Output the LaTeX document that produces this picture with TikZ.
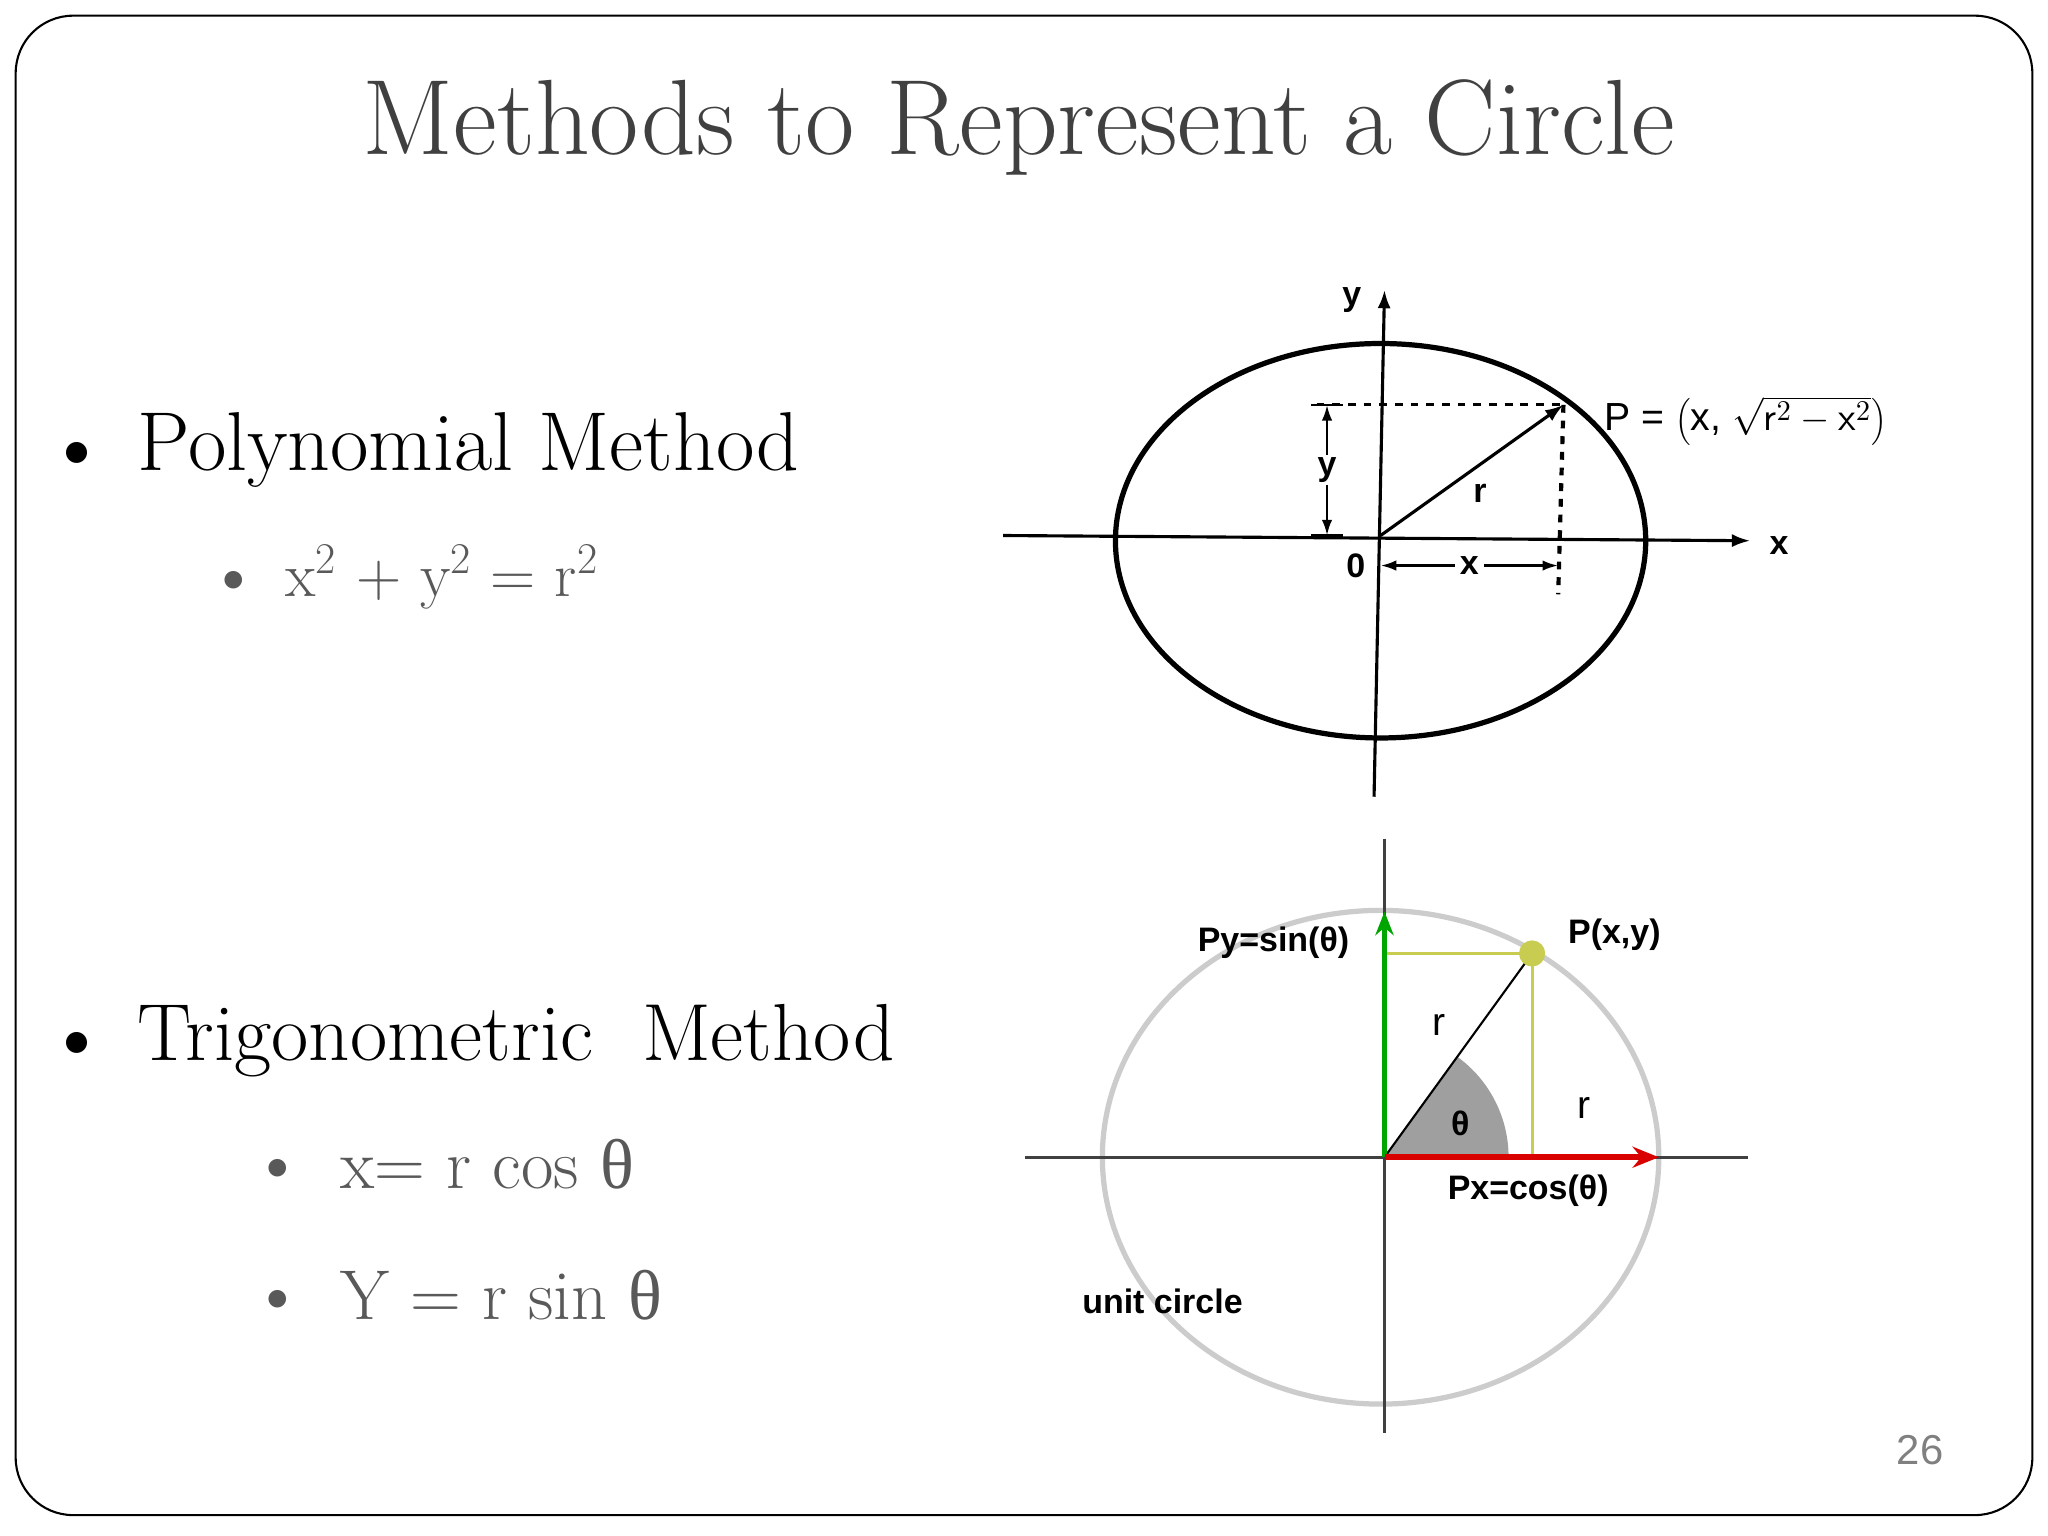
\documentclass[tikz,border=0pt]{standalone}
\usepackage{fontspec}
\newfontfamily\lsans{Liberation Sans}
\newfontfamily\lserif{Liberation Serif}
\usetikzlibrary{arrows.meta}
\definecolor{txtgray}{HTML}{404040}
\definecolor{subgray}{HTML}{595959}
\definecolor{ygreen}{HTML}{C8CC50}
\tikzset{
 bul/.style={anchor=base west,inner sep=0pt},
 lab/.style={font=\lsans\bfseries\fontsize{13}{14}\selectfont,inner sep=0pt},
 ax/.style={line width=1.2pt,-{Latex[length=7pt,width=5pt]}}
}
\begin{document}
\begin{tikzpicture}[x=0.5pt,y=-0.5pt]
\useasboundingbox (0,0) rectangle (1568,1176);
\fill[white] (0,0) rectangle (1568,1176);
\draw[line width=0.8pt,rounded corners=22pt] (12,12) rectangle (1556,1160);
\node[text=txtgray,font=\fontsize{41}{44}\selectfont] (title) at (780,98) {Methods to Represent a Circle};
% bullets
\node[bul,font=\fontsize{22}{24}\selectfont] (b1) at (48,357) {$\bullet$};
\node[bul,font=\fontsize{32}{34}\selectfont] (t1) at (105,360) {Polynomial Method};
\node[bul,text=subgray,font=\fontsize{18}{20}\selectfont] (b2) at (170,453) {$\bullet$};
\node[bul,text=subgray,font=\fontsize{24}{26}\selectfont] (t2) at (218,457) {x\textsuperscript{2} + y\textsuperscript{2} = r\textsuperscript{2}};
\node[bul,font=\fontsize{22}{24}\selectfont] (b3) at (48,809) {$\bullet$};
\node[bul,font=\fontsize{31}{33}\selectfont] (t3) at (105,812) {Trigonometric\ \ Method};
\node[bul,text=subgray,font=\fontsize{18}{20}\selectfont] (b4) at (204,903) {$\bullet$};
\node[bul,text=subgray,font=\fontsize{27}{29}\selectfont] (t4) at (260,910) {x= r cos {\lserif θ}};
\node[bul,text=subgray,font=\fontsize{18}{20}\selectfont] (b5) at (204,1003) {$\bullet$};
\node[bul,text=subgray,font=\fontsize{27}{29}\selectfont] (t5) at (260,1010) {Y = r sin {\lserif θ}};
\node[text=gray,font=\lsans\fontsize{16}{18}\selectfont] (pg) at (1470,1110) {26};
% top diagram
\draw[line width=2pt] (1057,414) ellipse (203 and 151);
\coordinate (O1) at (1057,410);
\coordinate (xl) at (768,410); \coordinate (xr) at (1340,414);
\coordinate (yb) at (1052,610); \coordinate (yt) at (1060,222);
\draw[ax] (xl) -- (xr);
\draw[ax] (yb) -- (yt);
\node[lab] (xlab) at (1362,418) {x};
\node[lab] (ylab) at (1035,230) {y};
\coordinate (P1) at (1197,310);
\draw[line width=1.2pt,-{Latex[length=7pt,width=5pt]}] (O1) -- (P1);
\coordinate (dl) at (1008,310); \coordinate (db) at (1193,455);
\draw[line width=1.2pt,dashed] (dl) -- (P1);
\draw[line width=1.6pt,dashed] (P1) -- (db);
\coordinate (ya) at (1016,310); \coordinate (yb2) at (1016,410);
\draw[line width=1pt,{Latex[length=6pt,width=4pt]}-{Latex[length=6pt,width=4pt]}] (ya) -- node[lab,fill=white,inner sep=1pt]{y} (yb2);
\draw[line width=1pt] (1004,310) -- (1028,310) (1004,410) -- (1028,410);
\coordinate (xa) at (1057,433); \coordinate (xb) at (1193,433);
\draw[line width=1pt,{Latex[length=6pt,width=4pt]}-{Latex[length=6pt,width=4pt]}] (xa) -- node[lab,fill=white,inner sep=2pt]{x} (xb);
\node[lab] (zero) at (1038,433) {0};
\node[lab] (rlab) at (1133,378) {r};
\node[anchor=west,font=\lsans\fontsize{15}{16}\selectfont,inner sep=0pt] (Plab) at (1228,322) {P = $\left(\mbox{x,}\ \sqrt{\mathsf{r}^2-\mathsf{x}^2}\right)$};
% bottom diagram
\draw[gray!40,line width=2pt] (1057,886) ellipse (213 and 189);
\coordinate (O2) at (1060,886);
\draw[line width=1.2pt,darkgray] (785,886) -- (1338,886);
\draw[line width=1.2pt,darkgray] (1060,642) -- (1060,1097);
\coordinate (P2) at (1173,730);
\fill[gray!75] (O2) -- ++(0:95) arc[start angle=0,end angle=54,x radius=95,y radius=-95] -- cycle;
\draw[ygreen,line width=1.2pt] (1060,730) -- (P2) -- (1173,886);
\draw[line width=0.8pt] (O2) -- (P2);
\draw[green!65!black,line width=2pt,-{Stealth[length=9pt,width=7pt]}] (O2) -- (1060,698);
\draw[red!85!black,line width=2.4pt,-{Stealth[length=10pt,width=8pt]}] (O2) -- (1270,886);
\fill[ygreen] (P2) circle (10);
\node[lab] (py) at (975,722) {Py=sin(θ)};
\node[lab] (pxy) at (1236,716) {P(x,y)};
\node[lab] (pxl) at (1170,912) {Px=cos(θ)};
\node[lab] (uc) at (890,996) {unit circle};
\node[lab] (th) at (1118,860) {θ};
\node[font=\lsans\fontsize{15}{16}\selectfont,inner sep=0pt] (r1) at (1102,785) {r};
\node[font=\lsans\fontsize{15}{16}\selectfont,inner sep=0pt] (r2) at (1213,848) {r};
\end{tikzpicture}
\end{document}
